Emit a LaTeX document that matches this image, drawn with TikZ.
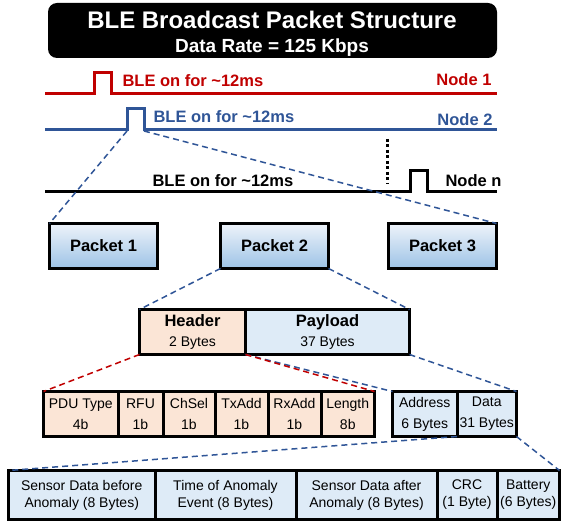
\documentclass[tikz,border=0pt]{standalone}
\usepackage{fontspec}
\setmainfont{Liberation Sans}
\usetikzlibrary{positioning}
\definecolor{sigred}{HTML}{C00000}
\definecolor{sigblue}{HTML}{2F5597}
\definecolor{hdrfill}{HTML}{FBE5D6}
\definecolor{pldfill}{HTML}{DEEBF7}
\definecolor{pkttop}{HTML}{EEF3FA}
\definecolor{pktbot}{HTML}{9DC3E6}
\def\titlefont{\fontsize{24}{28}\selectfont\bfseries}
\def\ratefont{\fontsize{19}{22}\selectfont\bfseries}
\def\sigfont{\fontsize{16.5}{19}\selectfont\bfseries}
\def\fieldfont{\fontsize{14}{21}\selectfont}
\def\bytefont{\fontsize{14}{17}\selectfont}
\def\onfor{BLE on for \textasciitilde12ms}

\begin{document}
\begin{tikzpicture}[x=1pt,y=-1pt,line join=miter,
					zoomline/.style={dash pattern=on 6pt off 4pt,line width=1.5pt},
					sig/.style={line width=3pt}]
					\tikzstyle{box}=[draw,line width=3pt,outer sep=0pt,inner sep=0pt,align=center]
					\tikzstyle{packet}=[box,minimum width=108pt,minimum height=45pt,
						top color=pkttop,bottom color=pktbot,font=\sigfont]
					\tikzstyle{hdr}=[box,minimum height=45pt,fill=hdrfill,font=\fieldfont]
					\tikzstyle{pld}=[box,minimum height=45pt,fill=pldfill,font=\fieldfont]
					\tikzstyle{part}=[box,minimum height=49pt,fill=pldfill,font=\bytefont]
					
					\useasboundingbox (0,0) rectangle (563,521);
					
					% title
					\node[fill=black,rounded corners=9pt,minimum width=449pt,minimum height=55pt] (title) at (272.5,30.5) {};
					\node[anchor=base,text=white,font=\titlefont] (ttext) at (272,28.5) {BLE Broadcast Packet Structure};
					\node[anchor=base,text=white,font=\ratefont]  (rate)  at (272,53)   {Data Rate = 125 Kbps};
					
					% node timelines
					\draw[sig,sigred]  (45,94) -- (94,94) -- (94,73) -- (111,73) -- (111,94) -- (497,94);
					\draw[sig,sigblue] (45,130) -- (127,130) -- (127,109) -- (144,109) -- (144,130) -- (497,130);
					\draw[sig]         (45,192) -- (410,192) -- (410,171) -- (427,171) -- (427,192) -- (497,192);
					\draw[line width=3pt,dash pattern=on 3pt off 2.5pt] (387,139) -- (387,184);
					
					\node[anchor=base west,text=sigred,font=\sigfont]  (on1) at (119,87)  {\onfor};
					\node[anchor=base east,text=sigred,font=\sigfont]  (n1)  at (495,86)  {Node 1};
					\node[anchor=base west,text=sigblue,font=\sigfont] (on2) at (150,123) {\onfor};
					\node[anchor=base east,text=sigblue,font=\sigfont] (n2)  at (496,126) {Node 2};
					\node[anchor=base west,font=\sigfont]              (onn) at (149,187) {\onfor};
					\node[anchor=base west,font=\sigfont]              (nn)  at (442,187) {Node n};
					
					\coordinate (p2a) at (127,131);
					\coordinate (p2b) at (144,131);
					
					% packets
					\node[packet] (pkt1) at (103.5,246) {Packet 1};
					\node[packet] (pkt2) [right=63pt of pkt1] {Packet 2};
					\node[packet] (pkt3) [right=60pt of pkt2] {Packet 3};
					
					% header and payload
					\node[hdr,minimum width=106pt] (header) at (192.5,332) {{\sigfont Header}\\[-1pt]2 Bytes};
					\node[pld,minimum width=164pt] (payload) [right=0pt of header] {{\sigfont Payload}\\[-1pt]37 Bytes};
					
					% header fields
					\node[hdr,minimum width=74.5pt] (pdu)    at (80.75,414)        {PDU Type\\4b};
					\node[hdr,minimum width=45pt]   (rfu)    [right=0pt of pdu]    {RFU\\1b};
					\node[hdr,minimum width=52pt]   (chsel)  [right=0pt of rfu]    {ChSel\\1b};
					\node[hdr,minimum width=53pt]   (txadd)  [right=0pt of chsel]  {TxAdd\\1b};
					\node[hdr,minimum width=53pt]   (rxadd)  [right=0pt of txadd]  {RxAdd\\1b};
					\node[hdr,minimum width=53.5pt] (length) [right=0pt of rxadd]  {Length\\8b};
					
					% payload fields
					\node[pld,minimum width=64.5pt] (address) at (424.75,414)        {Address\\6 Bytes};
					\node[pld,minimum width=59.5pt] (data)    [right=0pt of address] {Data\\31 Bytes};
					
					% data contents
					\node[part,minimum width=146.5pt] (before)  at (81.75,495)         {Sensor Data before\\Anomaly (8 Bytes)};
					\node[part,minimum width=141pt]   (time)    [right=0pt of before]  {Time of Anomaly\\Event (8 Bytes)};
					\node[part,minimum width=141pt]   (after)   [right=0pt of time]    {Sensor Data after\\Anomaly (8 Bytes)};
					\node[part,minimum width=60pt]    (crc)     [right=0pt of after]   {CRC\\(1 Byte)};
					\node[part,minimum width=62.5pt]  (battery) [right=0pt of crc]     {Battery\\(6 Bytes)};
					
					% zoom lines
					\path[zoomline,draw=sigblue]
					(p2a) edge (pkt1.north west)
					(p2b) edge (pkt3.north east)
					(pkt2.south west) edge (header.north west)
					(pkt2.south east) edge (payload.north east)
					(payload.south west) edge (address.north west)
					(payload.south east) edge (data.north east)
					(data.south west) edge (before.north west)
					(data.south east) edge (battery.north east);
					\path[zoomline,draw=sigred]
					(header.south west) edge (pdu.north west)
					(header.south east) edge (length.north east);
\end{tikzpicture}
\end{document}
